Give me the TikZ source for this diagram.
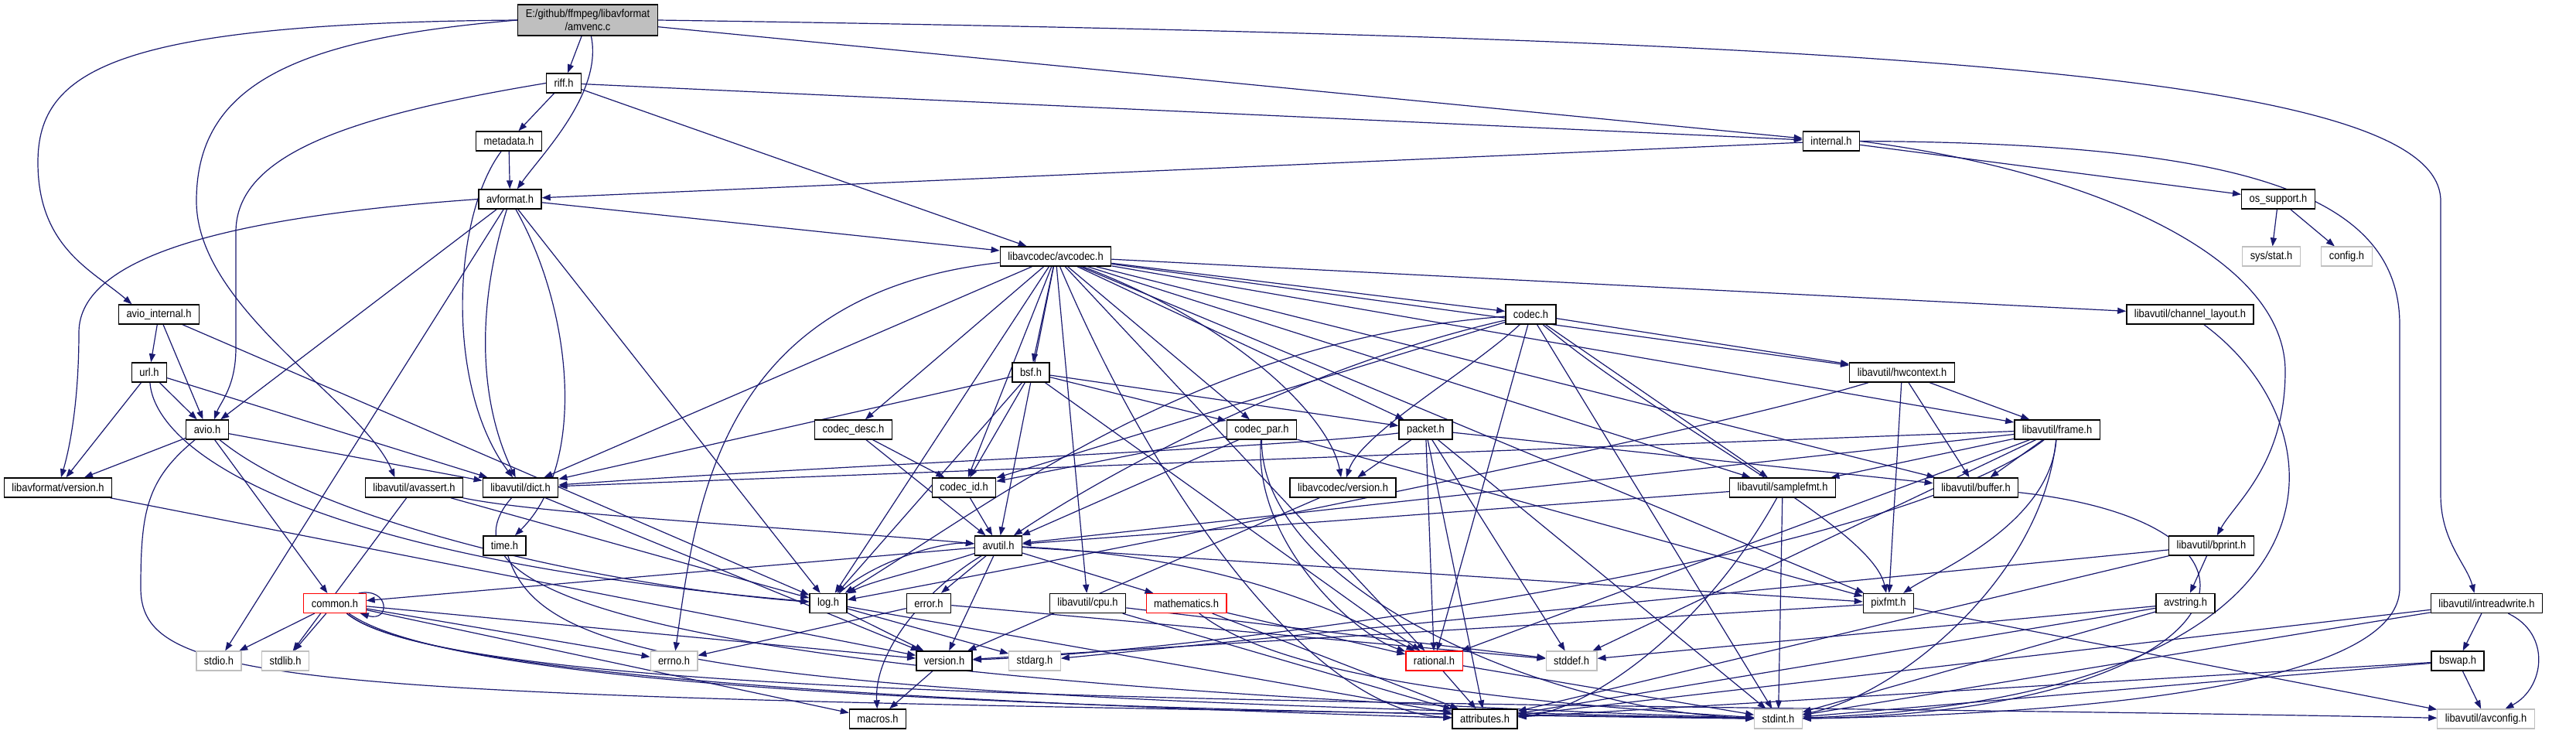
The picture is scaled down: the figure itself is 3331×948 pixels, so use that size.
\documentclass[tikz,border=0pt]{standalone}
\usepackage{fontspec}
\setmainfont[FakeStretch=0.89]{Liberation Sans}
\usepackage{tikz}
\usetikzlibrary{arrows.meta,backgrounds}
\usepackage{xcolor}
\definecolor{edgeblue}{HTML}{191970}
\definecolor{rootgray}{HTML}{BFBFBF}
\definecolor{sysgray}{HTML}{BFBFBF}
\definecolor{cutred}{HTML}{FF0000}

\begin{document}
\begin{tikzpicture}[x=1pt, y=-1pt,
  file/.style={draw=black, line width=1.4pt, fill=white, minimum height=25pt,
    inner xsep=10pt, inner ysep=0pt, font=\fontsize{14.5}{16}\selectfont},
  sysfile/.style={file, draw=sysgray, line width=1.1pt},
  cutfile/.style={file, draw=cutred, line width=1.1pt},
  edge/.style={draw=edgeblue, line width=1.2pt, -{Triangle[length=11pt,width=8pt]}}]
  \useasboundingbox (0,0) rectangle (3331,948);

  % Root file
  \node[file, fill=rootgray, align=center, minimum height=40pt,
    font=\fontsize{14.5}{17}\selectfont] (amv) at (760,26) {E:/github/ffmpeg/libavformat\\/amvenc.c};

  % libavformat
  \node[file] (riff) at (729,107.5) {riff.h};
  \node[file] (meta) at (658,182.5) {metadata.h};
  \node[file] (internal) at (2368,182.5) {internal.h};
  \node[file] (avformat) at (659.5,257.5) {avformat.h};
  \node[file] (ossupport) at (2946,257.5) {os\_support.h};
  \node[file] (avint) at (205.5,406.5) {avio\_internal.h};
  \node[file] (url) at (193,481.5) {url.h};
  \node[file] (avio) at (268,555.5) {avio.h};
  \node[file] (lavfver) at (75,630.5) {libavformat/version.h};

  % libavcodec
  \node[file] (avcodec) at (1365,331.5) {libavcodec/avcodec.h};
  \node[file] (codec) at (1979.5,406.5) {codec.h};
  \node[file] (bsf) at (1333,481.5) {bsf.h};
  \node[file] (codecdesc) at (1103.5,555.5) {codec\_desc.h};
  \node[file] (codecpar) at (1631.5,555.5) {codec\_par.h};
  \node[file] (packet) at (1843.5,555.5) {packet.h};
  \node[file] (codecid) at (1246.5,630.5) {codec\_id.h};
  \node[file] (lavcver) at (1736.5,630.5) {libavcodec/version.h};

  % libavutil
  \node[file] (chlayout) at (2832,406.5) {libavutil/channel\_layout.h};
  \node[file] (hwctx) at (2459.5,481.5) {libavutil/hwcontext.h};
  \node[file] (frame) at (2660,555.5) {libavutil/frame.h};
  \node[file] (avassert) at (535.5,630.5) {libavutil/avassert.h};
  \node[file] (dict) at (673,630.5) {libavutil/dict.h};
  \node[file] (samplefmt) at (2305,630.5) {libavutil/samplefmt.h};
  \node[file] (buffer) at (2555,630.5) {libavutil/buffer.h};
  \node[file] (timeh) at (652.5,705.5) {time.h};
  \node[file] (avutil) at (1291,705.5) {avutil.h};
  \node[file] (bprint) at (2859.5,705.5) {libavutil/bprint.h};
  \node[cutfile] (common) at (433,780) {common.h};
  \node[file] (logh) at (1071,780) {log.h};
  \node[file] (errorh) at (1201,780) {error.h};
  \node[file] (cpu) at (1406.5,780) {libavutil/cpu.h};
  \node[cutfile] (mathh) at (1534,780) {mathematics.h};
  \node[file] (pixfmt) at (2442,780) {pixfmt.h};
  \node[file] (avstring) at (2826,780) {avstring.h};
  \node[file] (intrw) at (3215.5,780) {libavutil/intreadwrite.h};
  \node[file] (version) at (1221,854.5) {version.h};
  \node[cutfile] (rational) at (1854.5,854.5) {rational.h};
  \node[file] (bswap) at (3178,854.5) {bswap.h};
  \node[file] (macros) at (1135,929.5) {macros.h};
  \node[file] (attrib) at (1920,929.5) {attributes.h};

  % system headers
  \node[sysfile] (sysstat) at (2937,331.5) {sys/stat.h};
  \node[sysfile] (config) at (3034.5,331.5) {config.h};
  \node[sysfile] (stdio) at (283,854.5) {stdio.h};
  \node[sysfile] (stdlib) at (369,854.5) {stdlib.h};
  \node[sysfile] (errno) at (871.5,854.5) {errno.h};
  \node[sysfile] (stdarg) at (1338,854.5) {stdarg.h};
  \node[sysfile] (stddef) at (2032,854.5) {stddef.h};
  \node[sysfile] (stdint) at (2299.5,929.5) {stdint.h};
  \node[sysfile] (avconfig) at (3214.5,929.5) {libavutil/avconfig.h};

  \begin{pgfonlayer}{background}
  \fill[white] (0,0) rectangle (3331,948);

  % amvenc.c
  \draw[edge] (amv) -- (riff);
  \draw[edge] (amv) .. controls (780,120) and (700,200) .. (avformat);
  \draw[edge] (amv) -- (internal);
  \draw[edge] (amv.west) .. controls (150,30) and (49,90) .. (49,210)
    .. controls (49,320) and (120,350) .. ([xshift=-35pt]avint.north);
  \draw[edge] (amv.west) .. controls (380,50) and (254,110) .. (254,260)
    .. controls (254,400) and (470,520) .. ([xshift=-25pt]avassert.north);
  \draw[edge] (amv.east) .. controls (2500,50) and (3156,100) .. (3156,260) -- (3156,640)
    .. controls (3156,700) and (3190,730) .. ([xshift=-16pt]intrw.north);

  % riff.h
  \draw[edge] (riff) -- (meta);
  \draw[edge] (riff) -- (internal);
  \draw[edge] (riff) -- (avcodec);
  \draw[edge] (riff.west) .. controls (450,150) and (305,200) .. (305,300) -- (305,450)
    .. controls (305,500) and (285,520) .. ([xshift=9pt]avio.north);

  % metadata.h
  \draw[edge] (meta) -- (avformat);
  \draw[edge] (meta) .. controls (585,280) and (575,500) .. (dict);

  % internal.h
  \draw[edge] (internal) -- (avformat);
  \draw[edge] (internal) -- (ossupport);
  \draw[edge] (internal.east) .. controls (2700,220) and (2955,330) .. (2955,480)
    .. controls (2955,600) and (2890,650) .. (bprint);
  \draw[edge] (internal.east) .. controls (2900,185) and (3103,250) .. (3103,420) -- (3103,760)
    .. controls (3103,900) and (2600,925) .. (stdint);
  \draw[edge] (ossupport) -- (sysstat);
  \draw[edge] (ossupport) -- (config);

  % avformat.h
  \draw[edge] (avformat) -- (avcodec);
  \draw[edge] (avformat) -- (avio);
  \draw[edge] (avformat.west) .. controls (300,280) and (102,330) .. (102,430)
    .. controls (102,520) and (90,580) .. (lavfver);
  \draw[edge] (avformat) .. controls (615,400) and (620,520) .. (dict);
  \draw[edge] (avformat) .. controls (740,400) and (760,600) .. (timeh);
  \draw[edge] (avformat) -- (logh);
  \draw[edge] (avformat) -- (stdio);

  % avio_internal.h, url.h, avio.h
  \draw[edge] (avint) -- (url);
  \draw[edge] (avint) -- (avio);
  \draw[edge] (avint) -- (logh);
  \draw[edge] (url) -- (avio);
  \draw[edge] (url) -- (lavfver);
  \draw[edge] (url) -- (dict);
  \draw[edge] (url) .. controls (200,580) and (380,720) .. (logh);
  \draw[edge] (avio) -- (lavfver);
  \draw[edge] (avio) -- (dict);
  \draw[edge] (avio) -- (common);
  \draw[edge] (avio) .. controls (420,680) and (800,760) .. (logh);
  \draw[edge] (avio) .. controls (190,620) and (182,660) .. (182,760)
    .. controls (182,895) and (400,900) .. (stdint);

  % libavcodec/avcodec.h
  \draw[edge] (avcodec) -- (bsf);
  \draw[edge] (avcodec) -- (codec);
  \draw[edge] (avcodec) -- (codecdesc);
  \draw[edge] (avcodec) -- (codecpar);
  \draw[edge] (avcodec) -- (codecid);
  \draw[edge] (avcodec) -- (packet);
  \draw[edge] (avcodec) .. controls (1600,420) and (1720,540) .. (lavcver);
  \draw[edge] (avcodec) .. controls (930,380) and (900,650) .. (errno);
  \draw[edge] (avcodec) -- (samplefmt);
  \draw[edge] (avcodec) .. controls (1500,650) and (1700,920) .. (attrib);
  \draw[edge] (avcodec) -- (avutil);
  \draw[edge] (avcodec) -- (buffer);
  \draw[edge] (avcodec) -- (cpu);
  \draw[edge] (avcodec) -- (chlayout);
  \draw[edge] (avcodec) -- (dict);
  \draw[edge] (avcodec) -- (frame);
  \draw[edge] (avcodec) -- (hwctx);
  \draw[edge] (avcodec) -- (logh);
  \draw[edge] (avcodec) -- (pixfmt);
  \draw[edge] (avcodec) -- (rational);

  % bsf.h, codec.h
  \draw[edge] (bsf) -- (dict);
  \draw[edge] (bsf) -- (logh);
  \draw[edge] (bsf) -- (rational);
  \draw[edge] (bsf) -- (codecid);
  \draw[edge] (bsf) -- (codecpar);
  \draw[edge] (bsf) -- (packet);
  \draw[edge] (codec) -- (stdint);
  \draw[edge] (codec) .. controls (1700,470) and (1450,600) .. (avutil);
  \draw[edge] (codec) -- (hwctx);
  \draw[edge] (codec) .. controls (1550,440) and (1300,640) .. (logh);
  \draw[edge] (codec) .. controls (2150,550) and (2420,680) .. (pixfmt);
  \draw[edge] (codec) -- (rational);
  \draw[edge] (codec) -- (samplefmt);
  \draw[edge] (codec) -- (codecid);
  \draw[edge] (codec) .. controls (1900,480) and (1760,560) .. (lavcver);

  % codec_desc.h, codec_id.h, codec_par.h, packet.h
  \draw[edge] (codecdesc) -- (avutil);
  \draw[edge] (codecdesc) -- (codecid);
  \draw[edge] (codecid) -- (avutil);
  \draw[edge] (codecpar) .. controls (1630,760) and (2000,920) .. (stdint);
  \draw[edge] (codecpar) -- (avutil);
  \draw[edge] (codecpar) .. controls (1620,700) and (1750,820) .. (rational);
  \draw[edge] (codecpar) -- (pixfmt);
  \draw[edge] (codecpar) -- (codecid);
  \draw[edge] (packet) -- (stddef);
  \draw[edge] (packet) -- (stdint);
  \draw[edge] (packet) -- (attrib);
  \draw[edge] (packet) -- (buffer);
  \draw[edge] (packet) .. controls (1650,580) and (1100,600) .. (dict);
  \draw[edge] (packet) -- (rational);
  \draw[edge] (packet) -- (lavcver);
  \draw[edge] (lavcver) -- (version);

  % hwcontext.h, frame.h, channel_layout.h
  \draw[edge] (chlayout) .. controls (3040,560) and (3050,900) .. (stdint);
  \draw[edge] (hwctx) -- (buffer);
  \draw[edge] (hwctx) -- (frame);
  \draw[edge] (hwctx) .. controls (2200,560) and (1500,700) .. (logh);
  \draw[edge] (hwctx) -- (pixfmt);
  \draw[edge] (frame) -- (stddef);
  \draw[edge] (frame) .. controls (2640,750) and (2450,900) .. (stdint);
  \draw[edge] (frame) -- (avutil);
  \draw[edge] (frame) -- (buffer);
  \draw[edge] (frame) -- (dict);
  \draw[edge] (frame) -- (rational);
  \draw[edge] (frame) -- (samplefmt);
  \draw[edge] (frame) .. controls (2650,680) and (2500,740) .. (pixfmt);
  \draw[edge] (frame) .. controls (2450,720) and (1600,840) .. (version);

  % samplefmt.h, buffer.h
  \draw[edge] (samplefmt) -- (stdint);
  \draw[edge] (samplefmt) -- (avutil);
  \draw[edge] (samplefmt) .. controls (2200,820) and (2050,920) .. (attrib);
  \draw[edge] (buffer) .. controls (3000,680) and (2900,920) .. (stdint);

  % dict.h, avassert.h, time.h, libavformat/version.h
  \draw[edge] (dict) .. controls (560,760) and (800,880) .. (stdint);
  \draw[edge] (dict) -- (version);
  \draw[edge] (avassert) -- (stdlib);
  \draw[edge] (avassert) .. controls (700,665) and (1000,680) .. (avutil);
  \draw[edge] (avassert) -- (logh);
  \draw[edge] (timeh) .. controls (700,850) and (900,900) .. (stdint);
  \draw[edge] (lavfver) -- (version);

  % avutil.h, log.h
  \draw[edge] (avutil) -- (common);
  \draw[edge] (avutil) -- (errorh);
  \draw[edge] (avutil) .. controls (1600,720) and (1750,800) .. (rational);
  \draw[edge] (avutil) -- (version);
  \draw[edge] (avutil) .. controls (1200,760) and (1130,840) .. (macros);
  \draw[edge] (avutil) -- (mathh);
  \draw[edge] (avutil) .. controls (1200,735) and (1130,750) .. (logh);
  \draw[edge] (avutil) -- (pixfmt);
  \draw[edge] (logh) .. controls (1130,725) and (1220,700) .. (avutil);
  \draw[edge] (logh) -- (stdarg);
  \draw[edge] (logh) -- (attrib);
  \draw[edge] (logh) -- (version);

  % error.h, cpu.h, mathematics.h, rational.h, version.h
  \draw[edge] (errorh) -- (errno);
  \draw[edge] (errorh) -- (stddef);
  \draw[edge] (cpu) -- (attrib);
  \draw[edge] (cpu) -- (stddef);
  \draw[edge] (mathh) .. controls (1650,870) and (1900,905) .. (stdint);
  \draw[edge] (mathh) -- (attrib);
  \draw[edge] (mathh) -- (rational);
  \draw[edge] (rational) -- (stdint);
  \draw[edge] (rational) -- (attrib);
  \draw[edge] (version) -- (macros);

  % pixfmt.h, bprint.h, avstring.h
  \draw[edge] (pixfmt) -- (avconfig);
  \draw[edge] (pixfmt) -- (version);
  \draw[edge] (bprint) -- (stdarg);
  \draw[edge] (bprint) -- (attrib);
  \draw[edge] (bprint) -- (avstring);
  \draw[edge] (avstring) -- (stddef);
  \draw[edge] (avstring) -- (stdint);
  \draw[edge] (avstring) -- (attrib);

  % intreadwrite.h, bswap.h
  \draw[edge] (intrw) -- (bswap);
  \draw[edge] (intrw) -- (stdint);
  \draw[edge] (intrw) .. controls (3300,820) and (3290,890) .. (avconfig);
  \draw[edge] (intrw) -- (attrib);
  \draw[edge] (bswap) -- (stdint);
  \draw[edge] (bswap) -- (avconfig);
  \draw[edge] (bswap) -- (attrib);

  % common.h
  \draw[edge] (common) -- (stdio);
  \draw[edge] (common) -- (stdlib);
  \draw[edge] (common) -- (errno);
  \draw[edge] (common) .. controls (600,900) and (1500,920) .. (stdint);
  \draw[edge] (common) .. controls (550,880) and (1300,910) .. (attrib);
  \draw[edge] (common) -- (macros);
  \draw[edge] (common) -- (version);
  \draw[edge] (common) .. controls (600,920) and (2000,905) .. (avconfig);
  \draw[edge] ([xshift=-10pt]common.north east) .. controls +(40,-8) and +(40,12)
    .. ([xshift=-8pt]common.south east);
  \end{pgfonlayer}
\end{tikzpicture}
\end{document}
